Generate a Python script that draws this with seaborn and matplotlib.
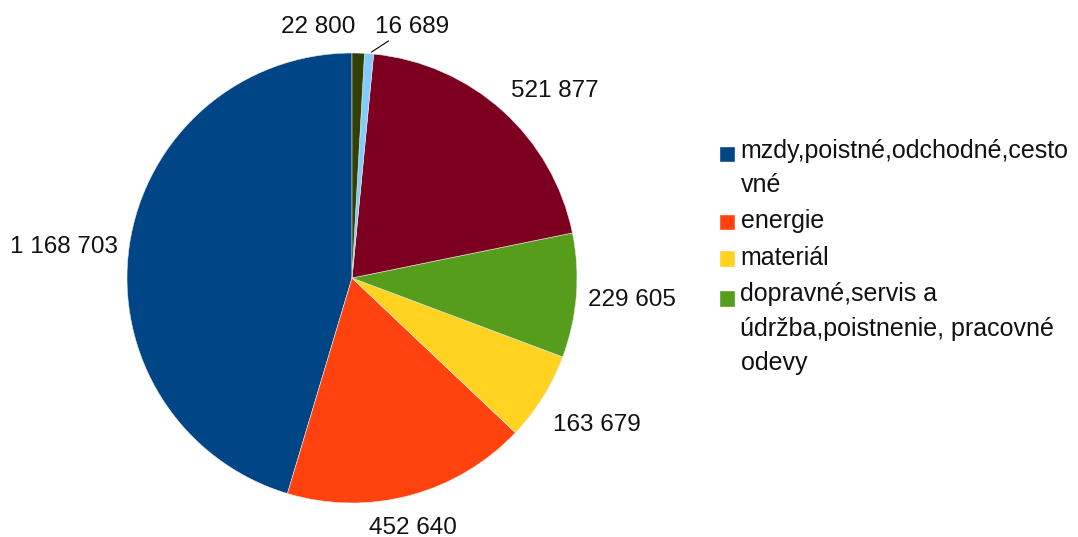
import numpy as np
import matplotlib
matplotlib.use('Agg')
import matplotlib.pyplot as plt
import matplotlib.patches as mpatches
from matplotlib.legend_handler import HandlerPatch
import seaborn as sns

# values of each slice (drawn counter-clockwise from 12 o'clock)
values = [1168703, 452640, 163679, 229605, 521877, 16689, 22800]
colors = ['#004586', '#ff420e', '#ffd320', '#579d1c', '#7e0021', '#83caff', '#314004']
# only first 4 appear in legend of original
legend_labels = ['mzdy,poistné,odchodné,cesto\nvné',
                 'energie',
                 'materiál',
                 'dopravné,servis a\núdržba,poistnenie, pracovné\nodevy']

sns.set_theme(style='white')
plt.rcParams['font.family'] = ['Liberation Sans', 'DejaVu Sans']

fig = plt.figure(figsize=(10.78, 5.37), dpi=100)
# center at (352, 278) px, radius 225 px
ax = fig.add_axes([(352 - 225) / 1078, (537 - 278 - 225) / 537, 450 / 1078, 450 / 537])
wedges, _ = ax.pie(values, colors=sns.color_palette(colors), startangle=90, counterclock=True,
                   wedgeprops=dict(linewidth=0.4, edgecolor='#e8e8e8'))
ax.set_xlim(-1, 1)
ax.set_ylim(-1, 1)
ax.set_aspect('equal')
ax.axis('off')

# labels outside the pie, like the office chart
special = {5: (43, 27), 6: (-40, 26)}
for i, (w, v) in enumerate(zip(wedges, values)):
    ang = np.deg2rad((w.theta1 + w.theta2) / 2)
    c, s = np.cos(ang), np.sin(ang)
    txt = f"{v:,}".replace(',', ' ')
    if i in special:
        kw = {}
        if i == 5:
            kw['arrowprops'] = dict(arrowstyle='-', color='black', lw=0.8,
                                    shrinkA=0, shrinkB=2, relpos=(0.25, 0))
        ax.annotate(txt, xy=(c, s), xytext=special[i], textcoords='offset pixels',
                    ha='center', va='center', fontsize=17.5, color='#111111', **kw)
        continue
    ha = 'left' if c > 0.3 else ('right' if c < -0.3 else 'center')
    va = 'bottom' if s > 0.3 else ('top' if s < -0.3 else 'center')
    gap = 12
    dy = s * gap - (10 if va == 'top' else 0) + (-3 if va == 'center' else 0)
    ax.annotate(txt, xy=(c, s), xytext=(c * gap, dy), textcoords='offset pixels',
                ha=ha, va=va, fontsize=17.5, color='#111111')


# legend square sits next to the first line of the label
def top_square(legend, orig_handle, xdescent, ydescent, width, height, fontsize):
    n = orig_handle.get_label().count('\n') + 1
    size = 12
    shift = (n - 1) / 2 * 23.8
    return mpatches.Rectangle((xdescent + (width - size) / 2, ydescent + (height - size) / 2 + shift),
                              size, size)


handles = [mpatches.Patch(facecolor=colors[i], label=legend_labels[i]) for i in range(4)]
leg = fig.legend(handles=handles, loc='upper left', bbox_to_anchor=(708 / 1078, 1 - 126 / 537),
                 frameon=False, fontsize=18, handlelength=0.52, handleheight=0.57,
                 handletextpad=0.28, labelspacing=0.5, borderpad=0,
                 handler_map={mpatches.Patch: HandlerPatch(patch_func=top_square)})
for t in leg.get_texts():
    t.set_linespacing(1.55)
    t.set_color('#111111')

fig.savefig('out.png', dpi=100)
